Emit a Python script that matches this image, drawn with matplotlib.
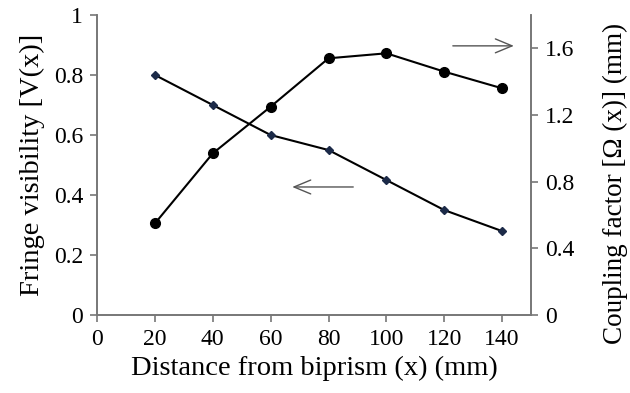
import matplotlib
matplotlib.use("Agg")
import matplotlib.pyplot as plt

plt.rcParams['font.family'] = ['Liberation Serif', 'DejaVu Serif']

# data
distance = [20, 40, 60, 80, 100, 120, 140]
visibility = [0.80, 0.70, 0.60, 0.55, 0.45, 0.35, 0.28]
coupling = [0.55, 0.97, 1.25, 1.54, 1.57, 1.46, 1.36]

x_ticks = [0, 20, 40, 60, 80, 100, 120, 140]
left_ticks = [0, 0.2, 0.4, 0.6, 0.8, 1]
left_labels = ['0', '0.2', '0.4', '0.6', '0.8', '1']
right_ticks = [0, 0.4, 0.8, 1.2, 1.6]
right_labels = ['0', '0.4', '0.8', '1.2', '1.6']

grey = '#777777'

fig = plt.figure(figsize=(6.3, 3.93), dpi=100)
ax = fig.add_axes([0.154, 0.198, 0.689, 0.764])
ax2 = ax.twinx()

ax.plot(distance, visibility, color='black', lw=1.5, marker='D', ms=4,
        mfc='#1c2a48', mec='#1c2a48', zorder=3)
ax2.plot(distance, coupling, color='black', lw=1.5, marker='o', ms=7,
         mfc='black', mec='black', zorder=3)

ax.set_xlim(0, 150)
ax.set_ylim(0, 1)
ax2.set_ylim(0, 1.8)

ax.set_xticks(x_ticks)
ax.set_yticks(left_ticks)
ax.set_yticklabels(left_labels)
ax2.set_yticks(right_ticks)
ax2.set_yticklabels(right_labels)

for a in (ax, ax2):
    a.spines['top'].set_visible(False)
    for s in ('left', 'right', 'bottom'):
        a.spines[s].set_color(grey)
        a.spines[s].set_linewidth(1.2)
    a.tick_params(direction='out', length=5, width=1.2, color=grey,
                  labelsize=17, labelcolor='black', pad=5)

ax.set_xlabel('Distance from biprism (x) (mm)', fontsize=20.5, labelpad=4)
ax.set_ylabel('Fringe visibility [V(x)]', fontsize=20.5, labelpad=6)
ax2.set_ylabel('Coupling factor [Ω (x)] (mm)', fontsize=19.5)
ax2.yaxis.set_label_coords(1.165, 0.44)

# arrows pointing at the axes
ax.annotate('', xy=(66.5, 0.427), xytext=(89.5, 0.427),
            arrowprops=dict(arrowstyle='->,head_length=1.2,head_width=0.5',
                            color='#555555', lw=1))
ax.annotate('', xy=(145, 0.897), xytext=(122, 0.897),
            arrowprops=dict(arrowstyle='->,head_length=1.2,head_width=0.5',
                            color='#555555', lw=1))

fig.savefig('out.png', dpi=100)
